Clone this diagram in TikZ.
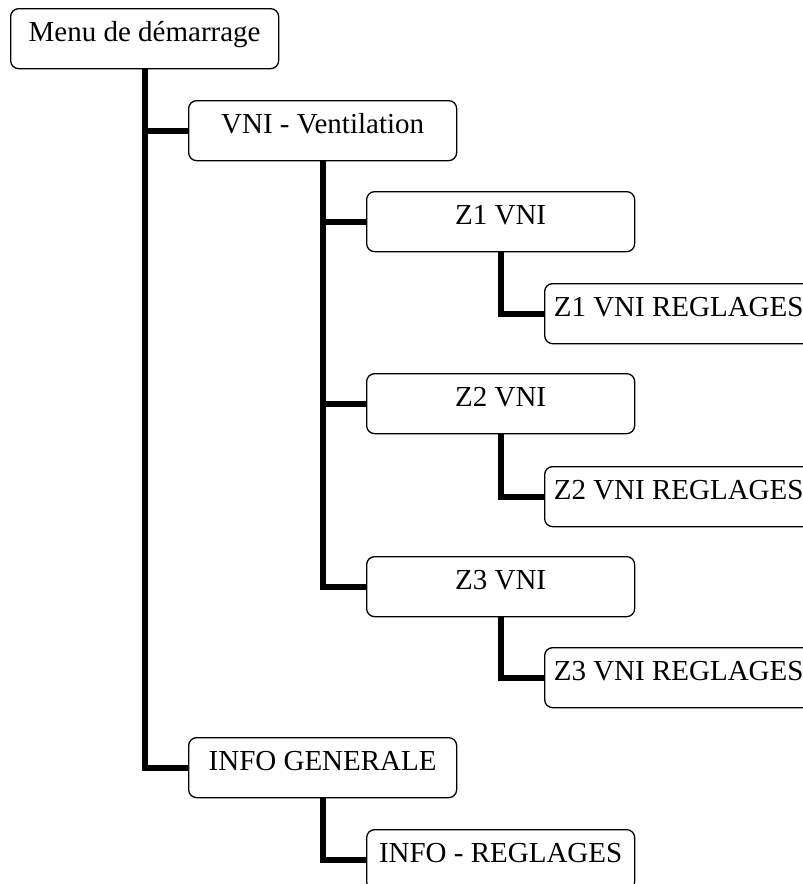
\documentclass[tikz,border=0pt]{standalone}
\usepackage{fontspec}
\setmainfont{Liberation Serif}
\usepackage{xcolor}
\usepackage{tikz}

\tikzset{
  menubox/.style={draw, line width=1.3pt, rounded corners=8pt, fill=white,
    minimum width=268pt, inner xsep=0pt, inner ysep=11pt,
    text height=22pt, text depth=16pt, anchor=north west,
    font=\fontsize{29}{34}\selectfont},
  link/.style={line width=6pt}
}

\begin{document}
\begin{tikzpicture}[x=1pt, y=-1pt]
    \useasboundingbox (0,0) rectangle (803,884);

    % Menu boxes
    \node[menubox] (menu) at (10,8) {Menu de démarrage};
    \node[menubox] (vni) at (188,100) {VNI - Ventilation};
    \node[menubox] (z1) at (366,191) {Z1 VNI};
    \node[menubox] (z1r) at (544,283) {Z1 VNI REGLAGES};
    \node[menubox] (z2) at (366,373) {Z2 VNI};
    \node[menubox] (z2r) at (544,466) {Z2 VNI REGLAGES};
    \node[menubox] (z3) at (366,556) {Z3 VNI};
    \node[menubox] (z3r) at (544,647) {Z3 VNI REGLAGES};
    \node[menubox] (info) at (188,737) {INFO GENERALE};
    \node[menubox] (infor) at (366,829) {INFO - REGLAGES};

    % Tree links
    \draw[link] (menu.south) |- (info.west);
    \draw[link] (menu.south |- vni.west) -- (vni.west);
    \draw[link] (vni.south) |- (z3.west);
    \draw[link] (vni.south |- z1.west) -- (z1.west);
    \draw[link] (vni.south |- z2.west) -- (z2.west);
    \draw[link] (z1.south) |- (z1r.west);
    \draw[link] (z2.south) |- (z2r.west);
    \draw[link] (z3.south) |- (z3r.west);
    \draw[link] (info.south) |- (infor.west);
\end{tikzpicture}
\end{document}
